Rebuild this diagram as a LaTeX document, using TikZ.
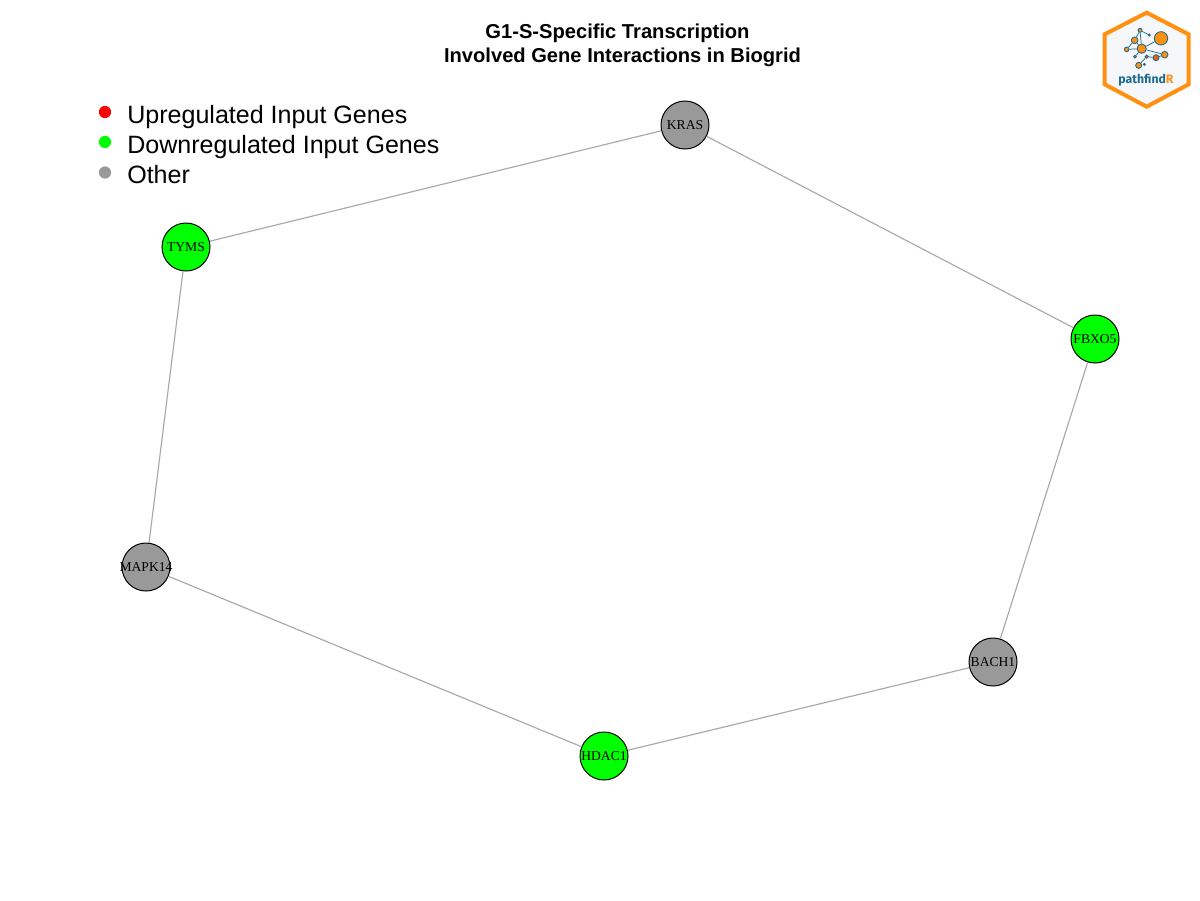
\documentclass[tikz,border=0pt]{standalone}
\usepackage{fontspec}
\setmainfont{Liberation Sans}
\newfontfamily\genefont{Liberation Serif}
\newfontfamily\logofont{Fira Sans}
\newcommand{\gn}[1]{\makebox[0pt]{#1}}
\definecolor{edgegray}{HTML}{A8A8A8}
\definecolor{othergray}{HTML}{999999}
\definecolor{logoorange}{HTML}{FF9010}
\definecolor{logoteal}{HTML}{1B6C90}
\definecolor{logored}{HTML}{F2600F}
\definecolor{logofill}{HTML}{F5F7FA}
\tikzset{
  gene/.style={circle,draw=black,line width=0.75pt,minimum size=36pt,inner sep=0pt,font=\genefont\fontsize{10.2pt}{10pt}\selectfont,text=black},
  down/.style={gene,fill=green},
  other/.style={gene,fill=othergray},
  link/.style={draw=edgegray,line width=0.85pt},
  legdot/.style={circle,minimum size=9.2pt,inner sep=0pt},
  legtext/.style={anchor=base west,inner sep=0pt,font=\fontsize{18.8pt}{20pt}\selectfont},
  lognode/.style={circle,draw=logoteal,line width=0.65pt,fill=logoorange,inner sep=0pt},
  loglink/.style={draw=logoteal,line width=0.55pt}
}
\begin{document}
\begin{tikzpicture}[x=0.75pt,y=-0.75pt]
\useasboundingbox[fill=white] (0,0) rectangle (1200,900);
% title
\node[name=title,align=center,inner sep=0pt,font=\bfseries\fontsize{15.1pt}{18pt}\selectfont] at (622.5,45) {G1-S-Specific Transcription\hspace*{7.5pt}\\Involved Gene Interactions in Biogrid};
% legend
\node[legdot,fill=red] (l1) at (105,112) {};
\node[legdot,fill=green] (l2) at (105,142) {};
\node[legdot,fill=othergray] (l3) at (105,172.5) {};
\node[legtext] (t1) at (127,123) {Upregulated Input Genes};
\node[legtext] (t2) at (127,153) {Downregulated Input Genes};
\node[legtext] (t3) at (127,183) {Other};
% genes
\node[other] (kras) at (685,125) {\gn{KRAS}};
\node[down] (tyms) at (186,247) {\gn{TYMS}};
\node[down] (fbxo) at (1095,339) {\gn{FBXO5}};
\node[other] (mapk) at (146,567) {\gn{MAPK14}};
\node[other] (bach) at (993,662) {\gn{BACH1}};
\node[down] (hdac) at (604,756) {\gn{HDAC1}};
\draw[link] (kras) -- (tyms);
\draw[link] (kras) -- (fbxo);
\draw[link] (tyms) -- (mapk);
\draw[link] (fbxo) -- (bach);
\draw[link] (mapk) -- (hdac);
\draw[link] (hdac) -- (bach);
% logo
\begin{scope}[shift={(1090,0)},x=0.25pt,y=-0.25pt]
\draw[draw=logoorange,fill=logofill,line width=3pt,line join=miter] (170,38) -- (296,103) -- (296,253) -- (170,320) -- (44,253) -- (44,103) -- cycle;
\node[lognode,minimum size=10pt] (a) at (213,115) {};
\node[lognode,minimum size=7pt] (b) at (155,146) {};
\node[lognode,minimum size=5pt] (c) at (134,121) {};
\node[lognode,minimum size=3pt] (d) at (150,91) {};
\node[lognode,minimum size=1.5pt] (e) at (178,105) {};
\node[lognode,minimum size=3.5pt] (f) at (110,148) {};
\node[lognode,minimum size=2pt] (g) at (135,170) {};
\node[lognode,minimum size=2.6pt,fill=logored] (h) at (170,170) {};
\node[lognode,minimum size=4.5pt,fill=logored] (i) at (198,173) {};
\node[lognode,minimum size=5pt] (j) at (224,164) {};
\node[lognode,minimum size=4.5pt] (k) at (146,196) {};
\node[lognode,minimum size=1.5pt,fill=logored] (m) at (163,193) {};
\draw[loglink] (b) -- (a);
\draw[loglink] (b) -- (c);
\draw[loglink] (b) -- (f);
\draw[loglink] (b) -- (j);
\draw[loglink] (b) -- (g);
\draw[loglink] (c) -- (d);
\draw[loglink] (d) -- (e);
\draw[loglink] (d) -- (b);
\draw[loglink] (c) -- (f);
\draw[loglink] (h) -- (i);
\draw[loglink] (h) -- (k);
\draw[loglink] (i) -- (j);
\node[inner sep=0pt,font=\logofont\bfseries\fontsize{9.2pt}{10pt}\selectfont,text=logoteal] (brand) at (168,241) {pathfind\textcolor{logoorange}{R}};
\end{scope}
\end{tikzpicture}
\end{document}
